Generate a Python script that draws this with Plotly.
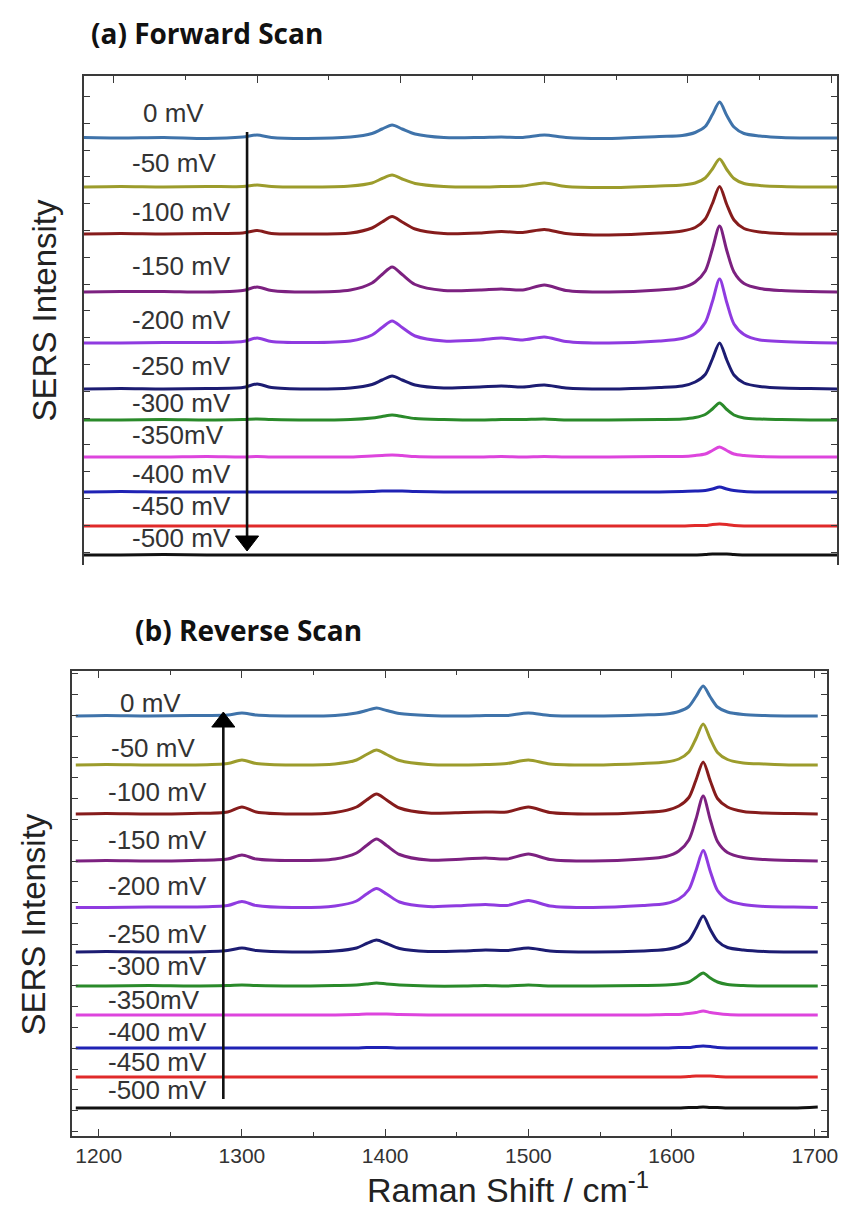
import plotly.graph_objects as go

# Raman shift sample positions (cm-1); the two scans share the interior points
inner_shift = [1205, 1235, 1265, 1290, 1300, 1310, 1335, 1365, 1380, 1387, 1394, 1401, 1410,
               1430, 1455, 1470, 1485, 1500, 1515, 1545, 1580, 1596, 1605, 1612, 1617, 1622,
               1627, 1632, 1639, 1650, 1665, 1685]
shift_fwd = [1179] + inner_shift + [1704]
shift_rev = [1184] + inner_shift + [1702]

potentials = ["0 mV", "-50 mV", "-100 mV", "-150 mV", "-200 mV", "-250 mV",
              "-300 mV", "-350mV", "-400 mV", "-450 mV", "-500 mV"]
colors = ["#3f73aa", "#9c9c2c", "#861c1c", "#7c2180", "#8f3be0", "#1c1c72",
          "#2a8a2a", "#dd45dd", "#1f22b4", "#e02a2a", "#111111"]

# vertical stacking offsets of each spectrum (a.u.)
offset_fwd = [427, 378, 330.5, 273, 222, 176, 145, 108, 73, 39, 10]
offset_rev = [420, 371, 322, 275, 228.5, 184, 150, 121, 88, 59, 28]

# SERS signal above each offset, forward scan (0 mV ... -500 mV)
sig_fwd = [
    [0.5, 0, 0.5, -0.5, 1, 3, 0.5, -0.5, 1, 4.5, 9, 13, 9, 4, 0.5, 0.5, 1, 0.5, 3, 0.5, -0.5,
     1.5, 2.5, 5.5, 11.5, 23.5, 36, 22.5, 11, 4.5, 2, 0.5, 0, 0],
    [0, 0.5, 0, 0.5, 0.5, 2, 0.5, 0, 1, 4, 8.5, 12, 8, 3.5, 0.5, 0, 0.5, 1, 4, 0.5, -0.5,
     1, 2, 4, 9, 18, 28, 17.5, 8.5, 3.5, 1.5, 0.5, 0, 0],
    [0.5, 1, 0.5, 1, 1.5, 4, 1, 0.5, 1.5, 6.5, 12.5, 18, 12.5, 5.5, 1, 1.5, 3, 2, 5, 1, -0.5,
     1.5, 3.5, 7, 15.5, 31, 48, 30, 14.5, 6, 2.5, 1, 0.5, 0.5],
    [0, 0.5, 0.5, 0, 1.5, 5, 1.5, 0, 2, 9, 17.5, 25, 17.5, 7.5, 1.5, 2, 3, 2, 7, 1.5, 0,
     2, 4.5, 10, 21, 43, 66, 41.5, 20, 8.5, 3.5, 1.5, 0.5, 0],
    [0, 0, 0.5, 0.5, 1.5, 5, 1.5, 0.5, 2, 8, 15.5, 22, 15.5, 7, 2, 3, 5, 3, 6, 1.5, 0,
     2, 4.5, 9.5, 20.5, 41.5, 64, 40.5, 19, 8.5, 3, 1.5, 0.5, 0],
    [0, 0.5, 0, 0.5, 1.5, 5, 1.5, 0, 1, 4.5, 9, 13, 9, 4, 1, 2, 3, 2, 4, 1, 0,
     1.5, 3, 7, 14.5, 30, 46, 29, 14, 6, 2.5, 1, 0.5, 0],
    [0, 0, 0.5, 0, 0.5, 1, 0.5, 0, 0.5, 2, 3.5, 5, 3.5, 1.5, 0.5, 0, 0.5, 0.5, 1, 0, 0,
     0.5, 1, 2.5, 5.5, 11, 17, 10.5, 5, 2, 1, 0.5, 0, 0],
    [0, 0, 0, 0.5, 0, 0.5, 0, 0, 0, 1, 1.5, 2, 1.5, 0.5, 0, 0, 0.5, 0, 0.5, 0, 0,
     0.5, 0.5, 1.5, 3, 6.5, 10, 6.5, 3, 1.5, 0.5, 0, 0, 0],
    [0, 0.5, 0, 0, 0, 0, 0, 0, 0, 0.5, 1, 1, 1, 0.5, 0, 0, 0, 0, 0, 0, 0,
     0, 0.5, 1, 1.5, 3, 5, 3, 1.5, 0.5, 0, 0, 0, 0],
    [0, 0, 0, 0, 0, 0, 0, 0, 0, 0, 0, 0, 0, 0, 0, 0, 0, 0, 0, 0, 0,
     0, 0, 0.5, 0.5, 1.5, 2, 1.5, 0.5, 0, 0, 0, 0, 0],
    [0, 0, 0.5, 0, 0, 0, 0, 0, 0, 0, 0, 0, 0, 0, 0, 0, 0, 0, 0, 0, 0,
     0, 0, 0, 0.5, 1, 1, 1, 0.5, 0, 0, 0, 0, 0],
]

# SERS signal above each offset, reverse scan (0 mV ... -500 mV)
sig_rev = [
    [0, 0.5, 0, 0.5, 1, 3, 1, 0, 0.5, 3, 5.5, 8, 5.5, 2.5, 0.5, 0, 0.5, 0.5, 3, 0.5, 0,
     1, 2, 4.5, 9.5, 19.5, 30, 19, 9, 4, 1.5, 0.5, 0, 0],
    [0, 0.5, 0, 0, 1.5, 5, 1.5, 0, 1, 5, 10.5, 15, 10.5, 4.5, 0.5, 0, 0.5, 1.5, 5, 1, 0,
     1.5, 3, 6, 13, 26.5, 41, 26, 12.5, 5.5, 2, 1, 0, 0],
    [0, 0.5, 0, 0.5, 2, 7, 2, 0, 1.5, 7, 14, 20, 14, 6, 1, 1.5, 2, 2, 7, 1.5, 0,
     1.5, 3.5, 8, 16.5, 34, 52, 33, 15.5, 7, 2.5, 1, 0.5, 0],
    [0, 0.5, 0, 0.5, 2, 6, 2, 0.5, 2, 8, 15.5, 22, 15.5, 6.5, 1, 2, 3, 2, 7, 1.5, 0,
     2, 4.5, 10, 21, 42, 65, 41, 19.5, 8.5, 3.5, 1.5, 0.5, 0],
    [0, 0, 0.5, 0.5, 2, 6, 2, 0, 1.5, 6.5, 13.5, 19, 13.5, 5.5, 1, 2, 3, 2, 7, 1.5, 0,
     2, 4, 8.5, 18, 37, 57, 36, 17, 7.5, 3, 1, 0.5, 0],
    [0, 0.5, 0, 0, 1.5, 4, 1.5, 0, 1, 4, 8.5, 12, 8.5, 3.5, 0.5, 1, 2, 1.5, 4, 1, 0,
     1, 2.5, 5.5, 11.5, 23.5, 36, 22.5, 11, 4.5, 2, 0.5, 0, 0],
    [0, 0, 0.5, 0, 0.5, 1, 0.5, 0, 0.5, 1, 2, 3, 2, 1, 0, 0, 0.5, 0, 1, 0, 0,
     0.5, 1, 2, 4, 8.5, 13, 8, 4, 1.5, 0.5, 0, 0, 0],
    [0, 0, 0, 0, 0, 0, 0, 0, 0, 0.5, 1, 1, 1, 0.5, 0, 0, 0, 0, 0, 0, 0,
     0, 0.5, 0.5, 1.5, 2.5, 4, 2.5, 1.5, 0.5, 0, 0, 0, 0],
    [0, 0, 0, 0, 0, 0, 0, 0, 0, 0, 0.5, 0.5, 0.5, 0, 0, 0, 0, 0, 0, 0, 0,
     0, 0, 0.5, 0.5, 1.5, 2, 1.5, 0.5, 0, 0, 0, 0, 0],
    [0, 0, 0, 0, 0, 0, 0, 0, 0, 0, 0, 0, 0, 0, 0, 0, 0, 0, 0, 0, 0,
     0, 0, 0, 0.5, 1, 1, 1, 0.5, 0, 0, 0, 0, 0],
    [0, 0, 0, 0, 0, 0, 0, 0, 0, 0, 0, 0, 0, 0, 0, 0, 0, 0, 0, 0, 0,
     0, 0, 0, 0.5, 0.5, 1, 0.5, 0.5, 0, 0, 0, 0, 1],
]

# label heights (a.u.) beside each spectrum
label_y_fwd = [452, 402, 353, 299, 245, 199, 162, 130, 91, 59, 27]
label_y_rev = [433, 388, 344, 296, 250, 202, 170, 136, 104, 74, 46]

# scan-direction arrows: shift position, tail height, head-centre height
arrow_fwd = dict(x=1293, tail=433, head=24)
arrow_rev = dict(x=1287, tail=37, head=414)

W, H = 854, 1208


def px(x):
    return x / W


def py(y):
    return 1 - y / H


fig = go.Figure()

for name, col, off, sig in zip(potentials, colors, offset_fwd, sig_fwd):
    fig.add_trace(go.Scatter(x=shift_fwd, y=[off + s for s in sig], mode="lines",
                             line=dict(color=col, width=3, shape="spline", smoothing=0.8),
                             name=name, showlegend=False, xaxis="x", yaxis="y"))

for name, col, off, sig in zip(potentials, colors, offset_rev, sig_rev):
    fig.add_trace(go.Scatter(x=shift_rev, y=[off + s for s in sig], mode="lines",
                             line=dict(color=col, width=3, shape="spline", smoothing=0.8),
                             name=name, showlegend=False, xaxis="x2", yaxis="y2"))

# arrows drawn as a shaft with a triangular head
for arr, symbol, xa, ya in [(arrow_fwd, "triangle-down", "x", "y"),
                            (arrow_rev, "triangle-up", "x2", "y2")]:
    fig.add_trace(go.Scatter(x=[arr["x"], arr["x"]], y=[arr["tail"], arr["head"]],
                             mode="lines", line=dict(color="#111111", width=2.6),
                             showlegend=False, hoverinfo="skip", xaxis=xa, yaxis=ya))
    fig.add_trace(go.Scatter(x=[arr["x"]], y=[arr["head"]], mode="markers",
                             marker=dict(symbol=symbol, size=20, color="#000000",
                                         line=dict(width=1, color="#000000")),
                             showlegend=False, hoverinfo="skip", xaxis=xa, yaxis=ya))

frame = "#3a3a3a"
label_font = dict(family="Liberation Sans, Arial", size=26, color="#333333")

annotations = []
for i, (name, yv) in enumerate(zip(potentials, label_y_fwd)):
    xl = 143 if i == 0 else 132
    annotations.append(dict(text=name, xref="paper", yref="y", x=px(xl), y=yv,
                            xanchor="left", yanchor="middle", showarrow=False, font=label_font))
for i, (name, yv) in enumerate(zip(potentials, label_y_rev)):
    xl = 120 if i == 0 else (110 if i == 1 else 107)
    annotations.append(dict(text=name, xref="paper", yref="y2", x=px(xl), y=yv,
                            xanchor="left", yanchor="middle", showarrow=False, font=label_font))

title_font = dict(family="Open Sans", size=28, color="#111111")
axis_title_font = dict(family="Liberation Sans, Arial", size=33, color="#222222")
annotations += [
    dict(text="<b>(a) Forward Scan</b>", xref="paper", yref="paper", x=px(90), y=py(33),
         xanchor="left", yanchor="middle", showarrow=False, font=title_font),
    dict(text="<b>(b) Reverse Scan</b>", xref="paper", yref="paper", x=px(135), y=py(630),
         xanchor="left", yanchor="middle", showarrow=False, font=title_font),
    dict(text="SERS Intensity", xref="paper", yref="paper", x=px(45), y=py(310), textangle=-90,
         xanchor="center", yanchor="middle", showarrow=False, font=axis_title_font),
    dict(text="SERS Intensity", xref="paper", yref="paper", x=px(33), y=py(925), textangle=-90,
         xanchor="center", yanchor="middle", showarrow=False, font=axis_title_font),
    dict(text="Raman Shift / cm<sup>-1</sup>", xref="paper", yref="paper", x=px(515), y=py(1187),
         xanchor="center", yanchor="middle", showarrow=False,
         font=dict(family="Liberation Sans, Arial", size=34, color="#222222")),
]

common_y = dict(showgrid=False, zeroline=False, showline=True, linecolor=frame, linewidth=1.5,
                mirror="ticks", ticks="inside", ticklen=6, tickcolor=frame, tickwidth=1.2,
                showticklabels=False)

fig.update_layout(
    width=W, height=H,
    margin=dict(l=0, r=0, t=0, b=0),
    paper_bgcolor="white", plot_bgcolor="white",
    xaxis=dict(domain=[px(85), px(848)], anchor="y", side="top", range=[1179.4, 1703.8],
               showgrid=False, zeroline=False, showline=True, linecolor=frame, linewidth=1.5,
               ticks="inside", ticklen=7, tickcolor=frame, tickwidth=1.2, tick0=1200, dtick=100,
               minor=dict(ticks="inside", ticklen=4, dtick=50, tickcolor=frame, tickwidth=1.2),
               showticklabels=False),
    yaxis=dict(domain=[py(565), py(76)], anchor="x", range=[0, 489], tick0=13, dtick=26.8,
               **common_y),
    xaxis2=dict(domain=[px(73), px(838)], anchor="y2", range=[1181.4, 1708.6],
                showgrid=False, zeroline=False, showline=True, linecolor=frame, linewidth=1.5,
                mirror="ticks", ticks="inside", ticklen=7, tickcolor=frame, tickwidth=1.2,
                tick0=1200, dtick=100,
                minor=dict(ticks="inside", ticklen=4, dtick=50, tickcolor=frame, tickwidth=1.2),
                tickfont=dict(family="Liberation Sans, Arial", size=21, color="#333333")),
    yaxis2=dict(domain=[py(1136), py(671)], anchor="x2", range=[0, 465], tick0=4.5, dtick=20.8,
                **common_y),
    annotations=annotations,
    hovermode=False,
)

fig.write_html("out.html")
